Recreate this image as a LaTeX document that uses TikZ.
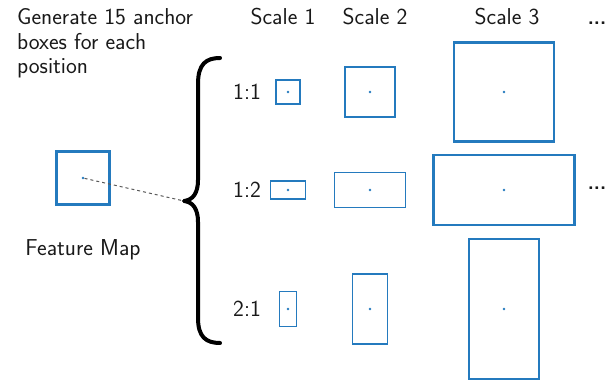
\documentclass[tikz,border=0pt]{standalone}
\usetikzlibrary{calc}
\definecolor{anchorblue}{RGB}{36,122,190}
\begin{document}
\begin{tikzpicture}[x=1pt,y=-1pt,
  every node/.style={font=\sffamily\fontsize{23}{24.5}\selectfont, text=black!90},
  box/.style={draw=anchorblue, line width=1.9pt, inner sep=0pt, minimum width=#1},
  bigbox/.style={box=#1, line width=2.6pt},
  ctr/.style={circle, fill=anchorblue, inner sep=0pt, minimum size=2.8pt},
  lbl/.style={anchor=center, inner sep=0pt},
  hdr/.style={anchor=base, inner sep=0pt},
  ellip/.style={inner sep=0pt, font=\sffamily\bfseries\fontsize{20}{24}\selectfont}]
\useasboundingbox (0,0) rectangle (616,387);

% caption text (base anchor sits on the last line)
\node[anchor=base west, inner sep=0pt, align=left] (intro) at (17,74)
  {Generate 15 anchor\\boxes for each\\position};

% column headers
\node[hdr] (s1) at (283,25) {Scale 1};
\node[hdr] (s2) at (375,25) {Scale 2};
\node[hdr] (s3) at (507,25) {Scale 3};
\node[ellip, anchor=base] (more) at (597,25) {...};

% feature map
\node[box=53pt, minimum height=53pt, line width=3pt] (fm) at (83,178) {};
\node[ctr] (fmc) at (fm.center) {};
\node[lbl] (fmlbl) at (83,250) {Feature Map};

% brace
\coordinate (tip) at (184,201);
\draw[line width=4pt, line cap=round, line join=round, black]
  (220,58) .. controls (206,58) and (198,64) .. (198,84) -- (198,180)
  .. controls (198,193) and (193,200) .. (tip)
  .. controls (193,202) and (198,209) .. (198,222) -- (198,318)
  .. controls (198,337) and (206,343) .. (220,343);
\draw[dashed, black!65, line width=1pt] (fmc) -- (tip);

% aspect ratio labels
\node[lbl] (r11) at (247,92) {1:1};
\node[lbl] (r12) at (247,190) {1:2};
\node[lbl] (r21) at (247,309) {2:1};

% scale 1
\node[box=24pt, minimum height=24pt] (a11) at (288,92) {};
\node[box=35pt, minimum height=18pt] (a12) at (288,190) {};
\node[box=17pt, minimum height=35pt] (a21) at (288,309) {};
% scale 2
\node[box=50pt, minimum height=50pt] (b11) at (370,92) {};
\node[box=71pt, minimum height=35pt] (b12) at (370,190) {};
\node[box=35pt, minimum height=70pt] (b21) at (370,309) {};
% scale 3
\node[bigbox=100pt, minimum height=99pt] (c11) at (504,92) {};
\node[bigbox=141pt, minimum height=70pt] (c12) at (504,190) {};
\node[bigbox=70pt, minimum height=140pt] (c21) at (504,309) {};

\foreach \b in {a11,a12,a21,b11,b12,b21,c11,c12,c21}
  \node[ctr] at (\b.center) {};

\node[ellip, anchor=center] (more2) at (597,188) {...};
\end{tikzpicture}
\end{document}
